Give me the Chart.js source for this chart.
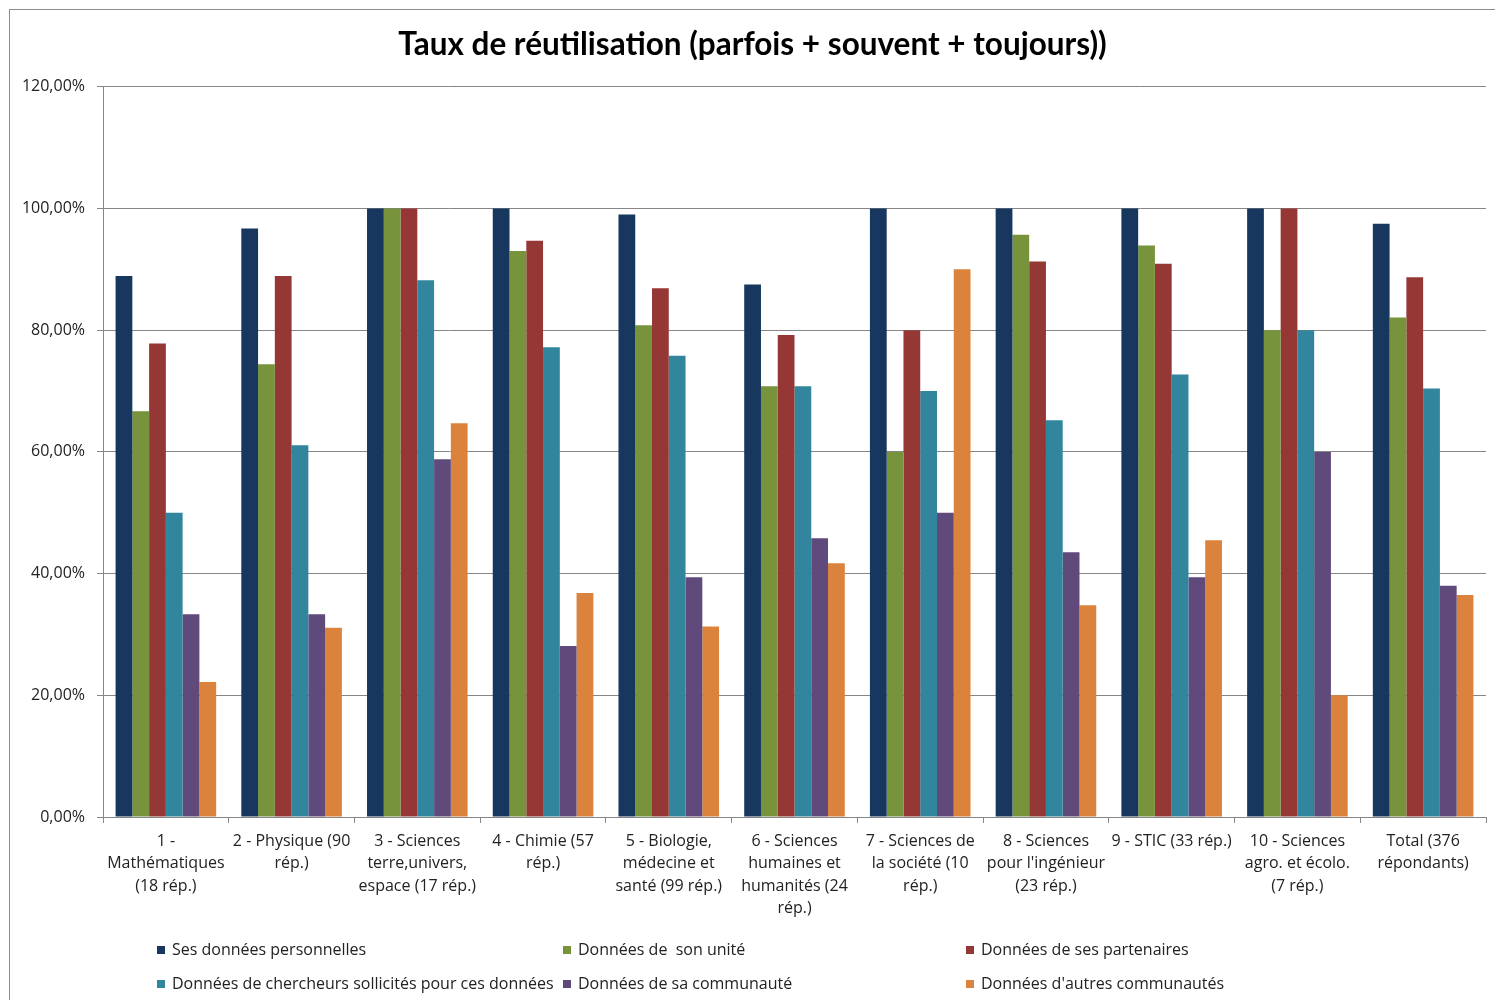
<!DOCTYPE html>
<html>
<head>
<meta charset="utf-8">
<script src="https://cdn.jsdelivr.net/npm/chart.js@4.4.0/dist/chart.umd.min.js"></script>
<style>
  body { margin: 0; overflow: hidden; background: #fff; font-family: "Open Sans", sans-serif; }
  #wrap { position: relative; width: 1495px; height: 1000px; overflow: hidden; }
  #frame { position: absolute; left: 9px; top: 9px; width: 1600px; height: 1100px;
           border-left: 1px solid #8c8c8c; border-top: 1px solid #8c8c8c; }
  canvas { position: absolute; left: 0; top: 0; }
  .leg { position: absolute; font-size: 16px; color: #222; white-space: nowrap; line-height: 20px; }
  .leg i { display: inline-block; width: 8px; height: 8px; margin-right: 7px; vertical-align: 1px; }
</style>
</head>
<body>
<div id="wrap">
  <div id="frame"></div>
  <canvas id="myChart" width="1512" height="1000"></canvas>
  <div id="legend"></div>
</div>
<script>
const categories = [
  ["1 -", "Mathématiques", "(18 rép.)"],
  ["2 - Physique (90", "rép.)"],
  ["3 - Sciences", "terre,univers,", "espace (17 rép.)"],
  ["4 - Chimie (57", "rép.)"],
  ["5 - Biologie,", "médecine et", "santé (99 rép.)"],
  ["6 - Sciences", "humaines et", "humanités (24", "rép.)"],
  ["7 - Sciences de", "la société (10", "rép.)"],
  ["8 - Sciences", "pour l'ingénieur", "(23 rép.)"],
  ["9 - STIC (33 rép.)"],
  ["10 - Sciences", "agro. et écolo.", "(7 rép.)"],
  ["Total (376", "répondants)"]
];

const seriesNames = [
  "Ses données personnelles",
  "Données de  son unité",
  "Données de ses partenaires",
  "Données de chercheurs sollicités pour ces données",
  "Données de sa communauté",
  "Données d'autres communautés"
];

const personnelles = [88.9, 96.7, 100, 100, 99.0, 87.5, 100, 100, 100, 100, 97.5];
const unite        = [66.7, 74.4, 100, 93.0, 80.8, 70.8, 60, 95.7, 93.9, 80, 82.1];
const partenaires  = [77.8, 88.9, 100, 94.7, 86.9, 79.2, 80, 91.3, 90.9, 100, 88.7];
const sollicites   = [50.0, 61.1, 88.2, 77.2, 75.8, 70.8, 70, 65.2, 72.7, 80, 70.4];
const communaute   = [33.3, 33.3, 58.8, 28.1, 39.4, 45.8, 50, 43.5, 39.4, 60, 38.0];
const autres       = [22.2, 31.1, 64.7, 36.8, 31.3, 41.7, 90, 34.8, 45.5, 20, 36.5];

const colors = ["#17375E", "#77933C", "#953735", "#31859C", "#604A7B", "#DB833D"];

const yTicks = [0, 20, 40, 60, 80, 100, 120];

const gridColor = "#868686";
const seriesValues = [personnelles, unite, partenaires, sollicites, communaute, autres];

// legend (html, 3 columns x 2 rows)
const legendPos = [[157, 939], [563, 939], [966, 939], [157, 973], [563, 973], [966, 973]];
const legend = document.getElementById('legend');
seriesNames.forEach((name, i) => {
  const d = document.createElement('div');
  d.className = 'leg';
  d.style.left = legendPos[i][0] + 'px';
  d.style.top = legendPos[i][1] + 'px';
  d.innerHTML = '<i style="background:' + colors[i] + '"></i>' + name.replace(/  /g, ' &nbsp;');
  legend.appendChild(d);
});

const ctx = document.getElementById('myChart').getContext('2d');
new Chart(ctx, {
  type: 'bar',
  data: {
    labels: categories,
    datasets: seriesValues.map((vals, i) => ({
      label: seriesNames[i],
      data: vals,
      backgroundColor: colors[i],
      borderWidth: 0,
      categoryPercentage: 0.8,
      barPercentage: 1.0
    }))
  },
  options: {
    responsive: false,
    animation: false,
    devicePixelRatio: 1,
    // left padding nudges the title centre towards x=756 like the original
    layout: { padding: { top: 10, left: 19, right: 26, bottom: 63 } },
    plugins: {
      legend: { display: false },
      tooltip: { enabled: false },
      title: {
        display: true,
        text: 'Taux de réutilisation (parfois + souvent + toujours))',
        color: '#000',
        font: { family: 'Lato', size: 31.5, weight: 'bold' },
        padding: { top: 16, bottom: 23 }
      }
    },
    scales: {
      x: {
        grid: { offset: true, drawOnChartArea: false, tickLength: 6, color: gridColor },
        border: { color: gridColor },
        ticks: {
          autoSkip: false, maxRotation: 0, minRotation: 0, padding: 7,
          color: '#222', font: { family: 'Open Sans', size: 16, lineHeight: 1.4 }
        },
        afterFit: (scale) => { scale.height = 120; }
      },
      y: {
        min: 0, max: 120,
        afterBuildTicks: (scale) => { scale.ticks = yTicks.map(v => ({ value: v })); },
        grid: { color: gridColor, tickLength: 6 },
        border: { color: gridColor },
        ticks: {
          padding: 12, color: '#222', font: { family: 'Open Sans', size: 16 },
          callback: (v) => v.toFixed(2).replace('.', ',') + '%'
        },
        afterFit: (scale) => { scale.width = 84; }
      }
    }
  }
});
</script>
</body>
</html>
